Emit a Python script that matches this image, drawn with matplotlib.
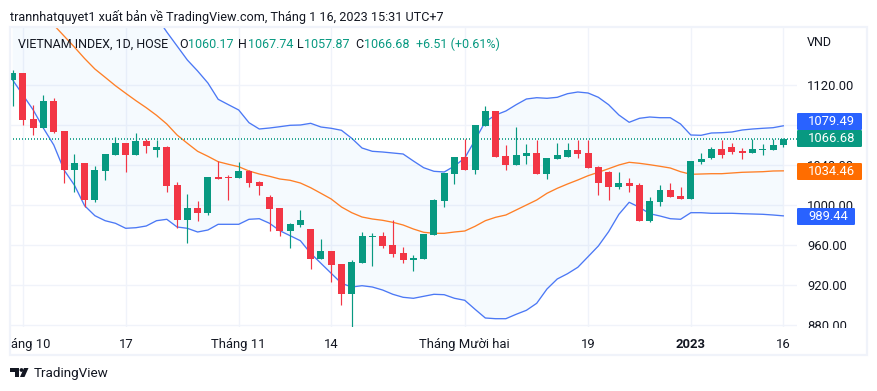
import matplotlib
matplotlib.use("Agg")
import matplotlib.pyplot as plt
from matplotlib.patches import Rectangle, Polygon, Circle, FancyBboxPatch
from matplotlib.transforms import Bbox
import numpy as np

plt.rcParams['font.family'] = ['Roboto', 'Noto Sans', 'DejaVu Sans']

opens = [1125.3,1132.3,1086.3,1077.3,1104.3,1074.3,1035.3,1042.3,1005.3,1034.3,1050.3,1062.3,1050.3,1064.3,1055.3,1058.3,1020.3,985.3,997.3,992.3,
         1028.3,1028.3,1027.3,1034.3,1023.3,1008.3,997.3,974.3,980.3,976.3,946.3,954.3,941.3,911.3,942.3,968.3,969.3,960.3,952.3,945.3,
         946.3,970.3,1004.3,1031.3,1048.3,1035.3,1079.3,1094.3,1049.3,1040.3,1049.3,1052.3,1031.3,1046.3,1048.3,1055.3,1052.3,1038.3,1033.3,1018.3,
         1022.3,1020.3,984.3,1003.3,1015.3,1009.3,1006.3,1043.3,1047.3,1056.3,1058.3,1054.3,1052.3,1055.3,1055.3,1060.17]
highs = [1135.3,1132.3,1100.3,1110.3,1107.3,1074.3,1051.3,1042.3,1039.3,1051.3,1068.3,1062.3,1072.3,1066.3,1065.3,1059.3,1023.3,1011.3,1004.3,1028.3,
         1044.3,1030.3,1043.3,1035.3,1024.3,1010.3,997.3,982.3,995.3,976.3,966.3,954.3,941.3,945.3,973.3,972.3,973.3,985.3,958.3,950.3,
         971.3,1006.3,1032.3,1048.3,1066.3,1080.3,1099.3,1094.3,1060.3,1078.3,1061.3,1065.3,1047.3,1062.3,1062.3,1065.3,1065.3,1039.3,1034.3,1033.3,
         1027.3,1022.3,1008.3,1020.3,1022.3,1018.3,1044.3,1052.3,1058.3,1065.3,1062.3,1057.3,1066.3,1061.3,1066.3,1067.74]
lows = [1099.3,1080.3,1070.3,1077.3,1072.3,1022.3,1013.3,998.3,1003.3,1025.3,1050.3,1033.3,1050.3,1052.3,1048.3,1013.3,977.3,962.3,984.3,990.3,
        1026.3,1005.3,1027.3,1018.3,1010.3,974.3,969.3,957.3,978.3,936.3,946.3,923.3,900.3,877.3,942.3,939.3,957.3,948.3,942.3,934.3,
        946.3,970.3,998.3,1021.3,1035.3,1031.3,1079.3,1048.3,1035.3,1040.3,1041.3,1031.3,1026.3,1046.3,1048.3,1047.3,1037.3,1010.3,1005.3,1016.3,
        1013.3,984.3,983.3,999.3,1008.3,1006.3,1006.3,1041.3,1046.3,1047.3,1051.3,1046.3,1052.3,1050.3,1055.3,1057.87]
closes = [1132.3,1085.3,1077.3,1104.3,1073.3,1035.3,1042.3,1005.3,1035.3,1051.3,1062.3,1050.3,1064.3,1059.3,1058.3,1019.3,985.3,997.3,992.3,1028.3,
          1026.3,1027.3,1034.3,1022.3,1019.3,996.3,974.3,981.3,985.3,946.3,954.3,940.3,911.3,943.3,969.3,969.3,959.3,951.3,945.3,947.3,
          971.3,1005.3,1032.3,1048.3,1035.3,1080.3,1094.3,1048.3,1040.3,1050.3,1052.3,1031.3,1047.3,1050.3,1055.3,1051.3,1037.3,1022.3,1018.3,1022.3,
          1019.3,984.3,1004.3,1015.3,1008.3,1006.3,1044.3,1046.3,1056.3,1050.3,1053.3,1052.3,1056.3,1056.3,1060.3,1066.68]
bb_upper = [1320,1310,1300,1290,1280,1270,1260,1250,1240,1230,1222,1214,1206,1198,1188.3,1173.3,1159.3,1145.3,1134.3,1122.3,
            1106,1100.6,1095.3,1082.6,1076.3,1077.3,1078.6,1080,1080.3,1082,1078.3,1077,1075,1067,1057.3,1054,1053.3,1052.3,1051.3,1044.3,
            1037.6,1034,1033.3,1039.3,1047.3,1065.3,1083.6,1090.3,1094.3,1100.6,1106.3,1107.6,1107,1108,1111.6,1113.3,1112.3,1108,1100.6,1090.3,
            1083,1087,1088.3,1087.6,1087.6,1081.3,1070.3,1070,1072.3,1072.6,1073.3,1075.3,1076.3,1077,1077.6,1079.49]
bb_mid = [1222,1213,1203,1192,1180.3,1169.3,1158.3,1146.8,1136.3,1128,1119.6,1112,1104.6,1097.6,1090,1081.3,1070.3,1062,1054,1049,
          1043.6,1041,1038.6,1034.3,1031.3,1029,1026.3,1025,1022.3,1017.6,1012,1006.3,998.3,992.6,988.3,986.3,985,983,980.3,976.3,
          973,972,972,973.3,974.3,979,984.6,988,990.3,995.3,1000.3,1005.3,1012,1017,1021.3,1025.3,1029.6,1033,1036.6,1040.3,
          1043,1042,1040.6,1039,1037.3,1033.6,1031,1031.3,1031.6,1031.6,1032.3,1033,1033.3,1033.6,1034.3,1034.46]
bb_lower = [1125.3,1110.3,1095.3,1077,1060.3,1035.3,1020.3,999.6,989.6,984.6,982,977,977.6,979.3,984.6,986,978.3,977,973.3,975.3,
            981,981,981,986,986.6,982,974.6,969.6,964.6,952,942,932,922,918.3,919.6,918.3,915.3,911,908,907,
            909,911,910.6,907,905,896,887.3,886.6,886.6,891,895,902,916.3,926.3,931.6,938,948.6,959.3,973.6,991,
            1003,998,991.6,989.3,986.6,986,992.6,992.6,992,992,992,991.6,991.3,991,990.3,989.44]
price_ticks = [1120, 1080, 1040, 1000, 960, 920, 880]
time_idx = [1, 11, 22, 31, 44, 56, 66, 75]
time_labels = ["Tháng 10", "17", "Tháng 11", "14", "Tháng Mười hai", "19", "2023", "16"]

UP, DOWN = "#089981", "#F23645"
GRID = "#F0F3FA"
INK = "#131722"
W, H = 877, 391

fig = plt.figure(figsize=(W/100, H/100), dpi=100, facecolor="white")
PL, PR, PT, PB = 10, 797, 27, 327
ax = fig.add_axes([PL/W, 1-PB/H, (PR-PL)/W, (PB-PT)/H])
X0, DX = 12.67, 10.275
ax.set_xlim((PL-X0)/DX, (PR-X0)/DX)
ax.set_ylim(1120-(PB-85.3), 1120-(PT-85.3))
for s in ax.spines.values():
    s.set_visible(False)
ax.set_axisbelow(True)
ax.grid(True, color=GRID, lw=1.0)

x = np.arange(len(opens))
o, h_, l, c = map(np.array, (opens, highs, lows, closes))
ax.fill_between(x, bb_lower, bb_upper, color="#2196F3", alpha=0.045, lw=0, zorder=1)
ax.plot(x, bb_mid, color="#FF7F26", lw=0.95, zorder=2)
ax.plot(x, bb_upper, color="#4B78F5", lw=0.95, zorder=2)
ax.plot(x, bb_lower, color="#4B78F5", lw=0.95, zorder=2)
ax.axhline(closes[-1], color=UP, lw=1.2, ls=(0, (0.6, 1.2)), zorder=2)

cols = [UP if cc >= oo else DOWN for oo, cc in zip(o, c)]
ax.vlines(x, l, h_, colors=cols, lw=0.85, zorder=3)
ax.bar(x, np.abs(c-o), bottom=np.minimum(o, c), width=0.68, color=cols, lw=0, zorder=4)

ax.yaxis.tick_right()
ax.set_yticks(price_ticks, [f"{p:.2f}" for p in price_ticks])
ax.set_xticks(time_idx, time_labels)
ax.tick_params(axis="y", length=0, pad=7.4, labelsize=9.4, labelcolor=INK)
ax.tick_params(axis="x", length=0, pad=7.6, labelsize=9.4, labelcolor=INK)
clip = Bbox([[PL+1, H-355], [867, H-PT]])
for t in ax.get_xticklabels():
    t.set_clip_box(clip); t.set_clip_on(True)
for t in ax.get_yticklabels():
    t.set_clip_box(Bbox([[PR, H-328], [867, H-PT]])); t.set_clip_on(True)
ax.get_xticklabels()[6].set_fontweight("bold")

ov = fig.add_axes([0, 0, 1, 1], zorder=5)
ov.set_xlim(0, W); ov.set_ylim(H, 0); ov.axis("off"); ov.patch.set_alpha(0)
ov.add_patch(Rectangle((10, 27), 857, 328, fc="none", ec=GRID, lw=1.6))

tags = [(1079.49, "1079.49", "#2962FF", 862), (closes[-1], "1066.68", UP, 862),
        (bb_mid[-1], "1034.46", "#FF6D00", 862), (bb_lower[-1], "989.44", "#2962FF", 855)]
ys = [121.5, 138.5, 171.5, 216.5]
for (v, s, col, xr), yc in zip(tags, ys):
    ov.add_patch(FancyBboxPatch((797, yc-8.5), xr-797, 17, boxstyle="round,pad=0,rounding_size=1.2", fc=col, ec="none"))
    ov.text(808, yc, s, color="white", fontsize=9.4, va="center", ha="left")

ov.text(10, 17.5, "trannhatquyet1 xuất bản về TradingView.com, Tháng 1 16, 2023 15:31 UTC+7", fontsize=9.1, color=INK, va="center")
ov.text(807, 42, "VND", fontsize=9.0, color=INK, va="center")
ly = 44.5
for xp, s, col in [(18, "VIETNAM INDEX, 1D, HOSE", INK), (179, "O", INK), (188, "1060.17", UP),
                   (238, "H", INK), (248, "1067.74", UP), (297, "L", INK), (304, "1057.87", UP),
                   (355, "C", INK), (364, "1066.68", UP), (416, "+6.51 (+0.61%)", UP)]:
    ov.text(xp, ly, s, fontsize=9.0, color=col, va="center")

ov.add_patch(Polygon([(10, 368), (19, 368), (19, 377), (15, 377), (15, 372), (10, 372)], fc=INK, ec="none"))
ov.add_patch(Circle((21.5, 370), 1.9, fc=INK, ec="none"))
ov.add_patch(Polygon([(24, 368), (28.5, 368), (24.5, 377), (20, 377)], fc=INK, ec="none"))
ov.text(33.5, 373, "TradingView", fontsize=9.7, color=INK, va="center")

fig.savefig("out.png", dpi=100)
